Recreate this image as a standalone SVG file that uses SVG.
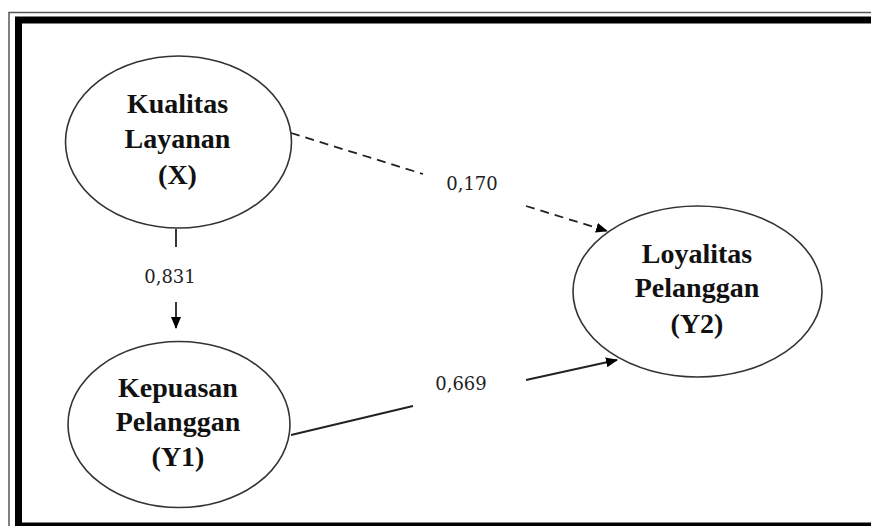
<svg xmlns="http://www.w3.org/2000/svg" width="871" height="526" viewBox="0 0 871 526">
<style>
.node ellipse{fill:#fff;stroke:#333;stroke-width:1.6}
.node text{font-family:"Liberation Serif","Times New Roman",serif;font-weight:bold;font-size:28px;fill:#111;text-anchor:middle}
.edge{stroke:#222;stroke-width:1.8;fill:none}
.dash{stroke-dasharray:9,6}
.lbl{font-family:"DejaVu Serif",serif;font-size:18px;fill:#222;text-anchor:middle}
</style>
<defs>
<marker id="ah" viewBox="0 0 12 10" refX="11" refY="5" markerWidth="12" markerHeight="10" markerUnits="userSpaceOnUse" orient="auto">
<path d="M0,0 L12,5 L0,10 Z" fill="#000"/>
</marker>
</defs>
<rect width="871" height="526" fill="#fff"/>
<g id="frame">
<rect x="9" y="12.5" width="900" height="540" fill="none" stroke="#555" stroke-width="1.5"/>
<rect x="18.5" y="20" width="900" height="506" fill="none" stroke="#000" stroke-width="7"/>
</g>
<g id="connectors">
<line class="edge" x1="176" y1="229" x2="176" y2="247"/>
<line class="edge" x1="176" y1="302" x2="176" y2="328" marker-end="url(#ah)"/>
<line class="edge dash" x1="291" y1="133" x2="423" y2="174"/>
<line class="edge dash" x1="526" y1="206" x2="607" y2="231" marker-end="url(#ah)"/>
<line class="edge" x1="291" y1="435" x2="413" y2="406"/>
<line class="edge" x1="526" y1="380" x2="617" y2="360" marker-end="url(#ah)"/>
<text class="lbl" x="170" y="283">0,831</text>
<text class="lbl" x="472" y="190">0,170</text>
<text class="lbl" x="461" y="390">0,669</text>
</g>
<g id="node-x" class="node">
<ellipse cx="178.5" cy="142" rx="113" ry="86"/>
<text x="177.5" y="113">Kualitas</text>
<text x="177.5" y="148">Layanan</text>
<text x="177.5" y="184">(X)</text>
</g>
<g id="node-y1" class="node">
<ellipse cx="179" cy="424.5" rx="111" ry="83"/>
<text x="178" y="397">Kepuasan</text>
<text x="178" y="431">Pelanggan</text>
<text x="178" y="466">(Y1)</text>
</g>
<g id="node-y2" class="node">
<ellipse cx="697.5" cy="291.5" rx="124.5" ry="85.5"/>
<text x="697" y="263">Loyalitas</text>
<text x="697" y="297">Pelanggan</text>
<text x="697" y="333">(Y2)</text>
</g>
</svg>
